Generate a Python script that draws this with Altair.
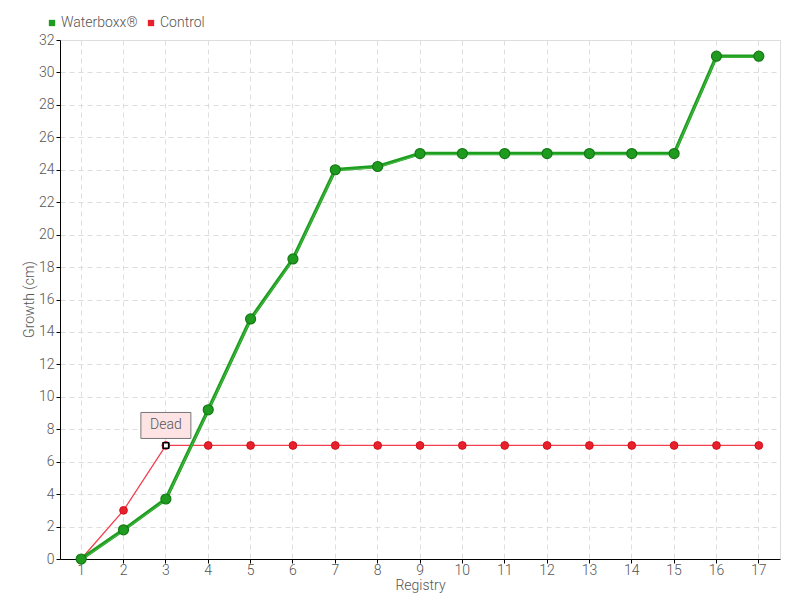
import altair as alt
import pandas as pd

registry = list(range(1, 18))
waterboxx = [0, 1.8, 3.7, 9.2, 14.8, 18.5, 24, 24.2, 25, 25, 25, 25, 25, 25, 25, 31, 31]
control = [0, 3, 7, 7, 7, 7, 7, 7, 7, 7, 7, 7, 7, 7, 7, 7, 7]
series_names = ["Waterboxx®", "Control"]
series_colors = ["#1f9b1f", "#e8202c"]
annotation_text = "Dead"
annotation_index = 3

rows = []
for r, w, c in zip(registry, waterboxx, control):
    rows.append({"Registry": r, "Growth": w, "Series": series_names[0]})
    rows.append({"Registry": r, "Growth": c, "Series": series_names[1]})
df = pd.DataFrame(rows)
df_w = df[df.Series == series_names[0]]
df_c = df[df.Series == series_names[1]]
df_ann = pd.DataFrame([{"Registry": annotation_index,
                        "Growth": control[registry.index(annotation_index)],
                        "label": annotation_text}])

FONT = "Roboto, sans-serif"
FW = 300

x = alt.X("Registry:O", title="Registry",
          scale=alt.Scale(type="band", paddingInner=0, paddingOuter=0),
          axis=alt.Axis(labelAngle=0, grid=True, gridDash=[5, 4], gridColor="#dddddd",
                        domainColor="#000000", tickColor="#000000", tickSize=4,
                        labelFont=FONT, labelFontSize=14, labelColor="#555555",
                        labelFontWeight=FW, labelPadding=0,
                        titleFont=FONT, titleFontSize=14, titleColor="#555555",
                        titleFontWeight=FW, titleY=26, titleBaseline="middle",
                        bandPosition=0.5))
y = alt.Y("Growth:Q", title="Growth (cm)",
          scale=alt.Scale(domain=[0, 32], nice=False),
          axis=alt.Axis(values=list(range(0, 33, 2)), grid=True, gridDash=[5, 4],
                        gridColor="#dddddd", domainColor="#000000", tickColor="#000000",
                        tickSize=4, labelFont=FONT, labelFontSize=14, labelColor="#555555",
                        labelFontWeight=FW, labelPadding=2,
                        titleFont=FONT, titleFontSize=14, titleColor="#555555",
                        titleFontWeight=FW, titleX=-31, titleY=259, titleAngle=-90,
                        titleBaseline="middle", titleAlign="center"))

color = alt.Color("Series:N", scale=alt.Scale(domain=series_names, range=series_colors),
                  legend=alt.Legend(title=None, orient="none", legendX=-15, legendY=-24,
                                    direction="horizontal", symbolType="square",
                                    symbolSize=40, symbolStrokeWidth=0,
                                    labelFont=FONT, labelFontSize=14,
                                    labelFontWeight=FW,
                                    labelColor="#555555", columnPadding=6, symbolOffset=0,
                                    labelOffset=2))

line_c = alt.Chart(df_c).mark_line(strokeWidth=1.3, stroke="#f2404e").encode(
    x=x, y=y)
pts_c = alt.Chart(df_c).mark_circle(size=60, opacity=1,
                                    stroke="#d0101a", strokeWidth=1).encode(x=x, y=y, color=color)
line_w = alt.Chart(df_w).mark_line(strokeWidth=3.5, stroke="#1e9e1e").encode(x=x, y=y)
line_w2 = alt.Chart(df_w).mark_line(strokeWidth=1, opacity=0.7, yOffset=1,
                                    stroke="#5cc45c").encode(x=x, y=y)
pts_w = alt.Chart(df_w).mark_circle(size=100, opacity=1, stroke="#157a15",
                                    strokeWidth=1.2).encode(x=x, y=y, color=color)

marker = alt.Chart(df_ann).mark_square(size=30, fill="white", stroke="black",
                                       strokeWidth=1.5, opacity=1).encode(x=x, y=y)
box = alt.Chart(df_ann).mark_rect(width=50, height=26, fill="#fde3e3", stroke="#777777",
                                  strokeWidth=1, yOffset=-20).encode(x=x, y=y)
label = alt.Chart(df_ann).mark_text(font=FONT, fontSize=14, fontWeight=FW, color="#555555",
                                    yOffset=-20, baseline="middle").encode(x=x, y=y, text="label:N")

chart = alt.layer(line_c, pts_c, line_w, line_w2, pts_w, box, label, marker).properties(
    width=720, height=519,
    autosize=alt.AutoSizeParams(type="none"),
    padding={"left": 52, "top": 32, "right": 12, "bottom": 40},
).configure_view(stroke=None).configure(background="white")

chart.save("out.html", embed_options={"renderer": "svg", "actions": False})
